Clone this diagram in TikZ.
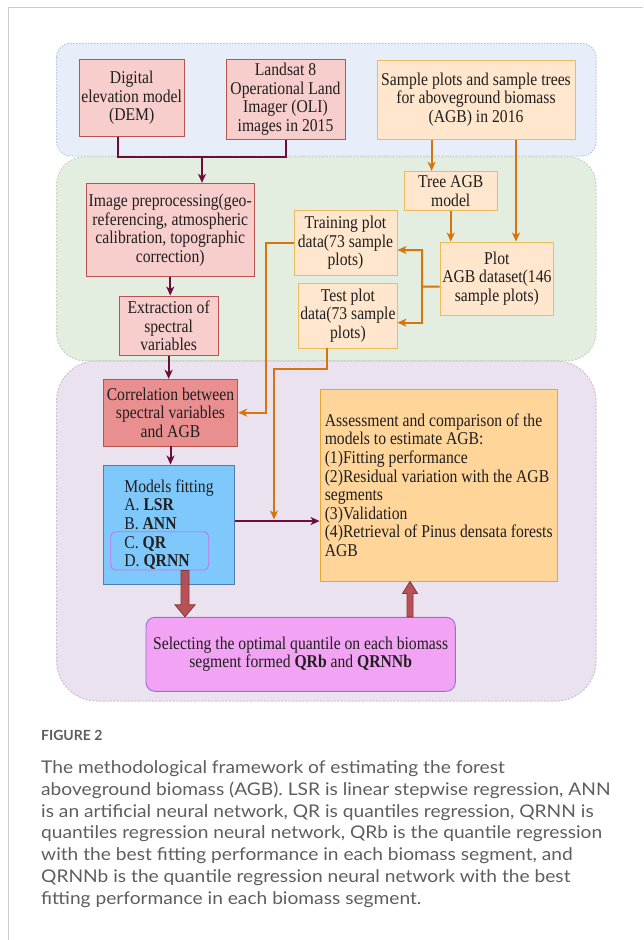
\documentclass[tikz,border=0pt]{standalone}
\usepackage{fontspec}
\setmainfont[FakeStretch=0.87]{Liberation Serif}
\newfontfamily\capfont[FakeStretch=1.095]{Lato}
\newfontfamily\labfont{Lato}
\usetikzlibrary{arrows.meta,calc}
\definecolor{pinkfill}{HTML}{F8CECC}
\definecolor{pinkline}{HTML}{B85450}
\definecolor{orfill}{HTML}{FFE6CC}
\definecolor{orline}{HTML}{EBBC5E}
\definecolor{corrfill}{HTML}{EA8F8F}
\definecolor{modfill}{HTML}{7EC8FB}
\definecolor{modline}{HTML}{4D7EAE}
\definecolor{assfill}{HTML}{FFD59A}
\definecolor{assline}{HTML}{E6A632}
\definecolor{selfill}{HTML}{F3A3F3}
\definecolor{selline}{HTML}{8F70E0}
\definecolor{qrline}{HTML}{D070E8}
\definecolor{mcol}{HTML}{6C0D3C}
\definecolor{ocol}{HTML}{D6750E}
\definecolor{barrow}{HTML}{B3474B}
\definecolor{barrowline}{HTML}{8A3438}
\definecolor{bluefill}{HTML}{E7EEF9}
\definecolor{blueline}{HTML}{B4C6E6}
\definecolor{greenfill}{HTML}{E3EEE0}
\definecolor{greenline}{HTML}{C4D6BE}
\definecolor{purpfill}{HTML}{EBE2EF}
\definecolor{purpline}{HTML}{CDBDD6}
\definecolor{framecol}{HTML}{CCCCCC}
\definecolor{capgray}{HTML}{5E5E5E}
\tikzset{
  box/.style={draw, line width=0.9pt, align=center, inner sep=1pt, text=black!88,
    font=\fontsize{18}{18.6}\selectfont},
  pinkbox/.style={box, fill=pinkfill, draw=pinkline},
  orbox/.style={box, fill=orfill, draw=orline},
  mline/.style={draw=mcol, line width=2pt},
  marrow/.style={mline, -{Stealth[length=9pt,width=8pt,inset=2.5pt]}},
  oline/.style={draw=ocol, line width=2pt},
  oarrow/.style={oline, -{Stealth[length=9pt,width=8pt,inset=2.5pt]}},
  band/.style={line width=1pt},
  blockarrow/.style={fill=barrow, draw=barrowline, line width=0.8pt, fill opacity=0.92}
}
\begin{document}
\begin{tikzpicture}[x=1pt,y=-1pt]
\useasboundingbox (0,0) rectangle (643,940);
\fill[white] (0,0) rectangle (643,940);
% frame
\draw[framecol, line width=1.5pt] (8.3,940) -- (8.3,7.3) -- (643,7.3);
% bands
\path[band, fill=bluefill, draw=blueline, dash pattern=on 1.5pt off 1.5pt, rounded corners=14]
  (56.6,43.3) rectangle (596,156);
\path[band, fill=greenfill, draw=greenline, dash pattern=on 2pt off 1.5pt, rounded corners=28]
  (56.6,156.8) rectangle (596,360.7);
\path[band, fill=purpfill, draw=purpline, dash pattern=on 2pt off 1.5pt, rounded corners=40]
  (56.6,361) rectangle (596,701);

% boxes
\node[pinkbox, minimum width=105.4, minimum height=77.7] (dem) at (131.7,97.85)
  {Digital\\elevation model\\(DEM)};
\node[pinkbox, minimum width=119, minimum height=80.3] (landsat) at (285.5,99.15)
  {Landsat 8\\Operational Land\\Imager (OLI)\\images in 2015};
\node[orbox, minimum width=198, minimum height=79.3] (sample) at (476,99.65)
  {Sample plots and sample trees\\for aboveground biomass\\(AGB) in 2016};
\node[orbox, minimum width=92.5, minimum height=39.4] (tree) at (450.75,191)
  {Tree AGB\\model};
\node[pinkbox, minimum width=168.5, minimum height=93.4] (imgpre) at (170.25,230)
  {Image preprocessing(geo-\\referencing, atmospheric\\calibration, topographic\\correction)};
\node[orbox, minimum width=103, minimum height=64.6] (train) at (345.5,243)
  {Training plot\\data(73 sample\\plots)};
\node[orbox, minimum width=113.7, minimum height=73.3] (plot) at (496.85,278.65)
  {Plot\\AGB dataset(146\\sample plots)};
\node[orbox, minimum width=98.2, minimum height=64.7] (test) at (347.9,315.65)
  {Test plot\\data(73 sample\\plots)};
\node[pinkbox, minimum width=98.7, minimum height=59.7] (extr) at (168.65,325.85)
  {Extraction of\\spectral\\variables};
\node[box, fill=corrfill, draw=pinkline, minimum width=134.4, minimum height=66.7] (corr) at (170.5,412.65)
  {Correlation between\\spectral variables\\and AGB};
\node[box, fill=modfill, draw=modline, align=left, minimum width=131.5, minimum height=119.3] (models) at (169,524.65)
  {Models fitting\\A. \textbf{LSR}\\B. \textbf{ANN}\\C. \textbf{QR}\\D. \textbf{QRNN}};
\node[draw=qrline, line width=0.9pt, rounded corners=5, minimum width=98, minimum height=38.3, inner sep=0] (inner) at (159.7,550.85) {};
\node[box, fill=assfill, draw=assline, align=left, minimum width=237.4, minimum height=191.7] (assess) at (438.7,485.15)
  {Assessment and comparison of the\\models to estimate AGB:\\(1)Fitting performance\\(2)Residual variation with the AGB\\segments\\(3)Validation\\(4)Retrieval of Pinus densata forests\\AGB};
\node[box, fill=selfill, draw=selline, rounded corners=9, minimum width=309.3, minimum height=74] (sel) at (300.65,654.3)
  {Selecting the optimal quantile on each biomass\\segment formed \textbf{QRb} and \textbf{QRNNb}};

% magenta connectors
\coordinate (m1) at (202,157);
\draw[mline] (landsat.south) |- (m1);
\draw[marrow] ([xshift=-13.7pt]dem.south) |- (m1) -- (m1 |- imgpre.north);
\draw[marrow] (imgpre.south) -- (imgpre.south |- extr.north);
\draw[marrow] (extr.south) -- (extr.south |- corr.north);
\draw[marrow] (corr.south) -- (corr.south |- models.north);
\draw[marrow] ([yshift=3.6pt]models.east) -- ([yshift=3.6pt]models.east -| assess.west);

% orange connectors
\draw[oarrow] ([xshift=-44.4pt]sample.south) -- ([xshift=-19.15pt]tree.north);
\draw[oarrow] ([xshift=40pt]sample.south) -- ([xshift=19.15pt]plot.north);
\draw[oarrow] (tree.south) -- (tree.south |- plot.north);
\coordinate (br) at (422,286.7);
\draw[oarrow] ([yshift=-8pt]plot.west) -- (br) |- ([yshift=-7pt]train.east);
\draw[oarrow] (br) |- ([yshift=-7pt]test.east);
\coordinate (t1) at (266.4,243);
\draw[oarrow] (train.west) -- (t1) |- (corr.east);
\coordinate (t2) at (274,369);
\coordinate (t3) at (274,519.5);
\draw[oarrow] ([xshift=-20.9pt]test.south) |- (t2) -- (t3);

% block arrows
\coordinate (ba1) at ([xshift=25.3pt]inner.south);
\coordinate (ba2) at (ba1 |- sel.north);
\path[blockarrow] ($(ba1)+(-4,0)$) -- ($(ba2)+(-4,-12)$) -- ($(ba2)+(-10,-12)$) -- (ba2)
  -- ($(ba2)+(10,-12)$) -- ($(ba2)+(4,-12)$) -- ($(ba1)+(4,0)$) -- cycle;
\coordinate (bb1) at ([xshift=109.35pt]sel.north);
\coordinate (bb2) at (bb1 |- assess.south);
\path[blockarrow] ($(bb1)+(-3,0)$) -- ($(bb2)+(-3,12)$) -- ($(bb2)+(-7.5,12)$) -- (bb2)
  -- ($(bb2)+(7.5,12)$) -- ($(bb2)+(3,12)$) -- ($(bb1)+(3,0)$) -- cycle;

% caption
\node[anchor=base west, inner sep=0, text=capgray, font=\labfont\bfseries\fontsize{14}{14}\selectfont] (figlabel) at (41,740) {FIGURE 2};
\node[anchor=north west, inner sep=0, align=left, text=capgray, font=\capfont\fontsize{17.5}{21.75}\selectfont] (caption) at (41,760.5)
  {The methodological framework of estimating the forest\\
   aboveground biomass (AGB). LSR is linear stepwise regression, ANN\\
   is an artificial neural network, QR is quantiles regression, QRNN is\\
   quantiles regression neural network, QRb is the quantile regression\\
   with the best fitting performance in each biomass segment, and\\
   QRNNb is the quantile regression neural network with the best\\
   fitting performance in each biomass segment.};
\end{tikzpicture}
\end{document}
